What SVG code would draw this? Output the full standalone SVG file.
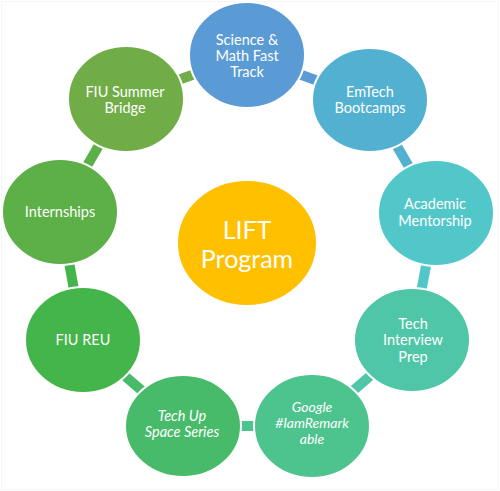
<svg xmlns="http://www.w3.org/2000/svg" width="500" height="491" viewBox="0 0 500 491">
<style>
.c{stroke:#fff;stroke-width:2}
.t{font-family:Lato,"Open Sans","Liberation Sans",sans-serif;font-size:14.5px;fill:#fff;text-anchor:middle}
.i{font-style:italic}
.k{stroke-width:10;fill:none}
</style>
<rect x="0" y="0" width="500" height="491" fill="#fff"/>
<rect x="1.5" y="1.5" width="496.5" height="488" fill="none" stroke="#f6f6f6" stroke-width="1"/>
<g id="connectors">
<line class="k" x1="247" y1="55" x2="370" y2="100" stroke="#5b9bd5"/>
<line class="k" x1="370" y1="100" x2="436" y2="213" stroke="#52b0d1"/>
<line class="k" x1="436" y1="213" x2="412" y2="340" stroke="#52c7c9"/>
<line class="k" x1="412" y1="340" x2="312" y2="426" stroke="#4fc6a8"/>
<line class="k" x1="312" y1="426" x2="183" y2="426" stroke="#4dc38e"/>
<line class="k" x1="183" y1="426" x2="83" y2="340" stroke="#47bb69"/>
<line class="k" x1="83" y1="340" x2="60" y2="212" stroke="#44b54b"/>
<line class="k" x1="60" y1="212" x2="126" y2="99" stroke="#5cb047"/>
<line class="k" x1="126" y1="99" x2="247" y2="55" stroke="#70ad47"/>
</g>
<g id="science">
<ellipse class="c" cx="247" cy="55" rx="58" ry="53" fill="#5b9bd5"/>
<text class="t" x="247" y="45">Science &amp;</text>
<text class="t" x="247" y="61">Math Fast</text>
<text class="t" x="247" y="77">Track</text>
</g>
<g id="emtech">
<ellipse class="c" cx="370" cy="100" rx="58" ry="52" fill="#52b0d1"/>
<text class="t" x="370" y="97">EmTech</text>
<text class="t" x="370" y="113">Bootcamps</text>
</g>
<g id="academic">
<ellipse class="c" cx="436" cy="213" rx="58" ry="53" fill="#52c7c9"/>
<text class="t" x="435" y="209">Academic</text>
<text class="t" x="435" y="226">Mentorship</text>
</g>
<g id="interview">
<ellipse class="c" cx="412" cy="340" rx="58" ry="52" fill="#4fc6a8"/>
<text class="t" x="413" y="329">Tech</text>
<text class="t" x="413" y="345">Interview</text>
<text class="t" x="413" y="362">Prep</text>
</g>
<g id="google">
<ellipse class="c" cx="312" cy="426" rx="58" ry="52" fill="#4dc38e"/>
<text class="t i" style="font-size:14px" x="312" y="412">Google</text>
<text class="t i" style="font-size:14px" x="312" y="428">#IamRemark</text>
<text class="t i" style="font-size:14px" x="312" y="444">able</text>
</g>
<g id="techup">
<ellipse class="c" cx="183" cy="426" rx="58" ry="51" fill="#47bb69"/>
<text class="t i" x="182" y="421">Tech Up</text>
<text class="t i" x="182" y="437">Space Series</text>
</g>
<g id="reu">
<ellipse class="c" cx="83" cy="340" rx="58" ry="53" fill="#44b54b"/>
<text class="t" x="83" y="345">FIU REU</text>
</g>
<g id="internships">
<ellipse class="c" cx="60" cy="212" rx="58" ry="53" fill="#5cb047"/>
<text class="t" x="60" y="217">Internships</text>
</g>
<g id="bridge">
<ellipse class="c" cx="126" cy="99" rx="58" ry="53" fill="#70ad47"/>
<text class="t" x="125" y="97">FIU Summer</text>
<text class="t" x="125" y="113">Bridge</text>
</g>
<g id="lift">
<ellipse class="c" cx="247" cy="243" rx="70" ry="63" fill="#ffc000"/>
<text class="t" style="font-size:25px" x="247" y="239">LIFT</text>
<text class="t" style="font-size:25px" x="247" y="268">Program</text>
</g>
</svg>
